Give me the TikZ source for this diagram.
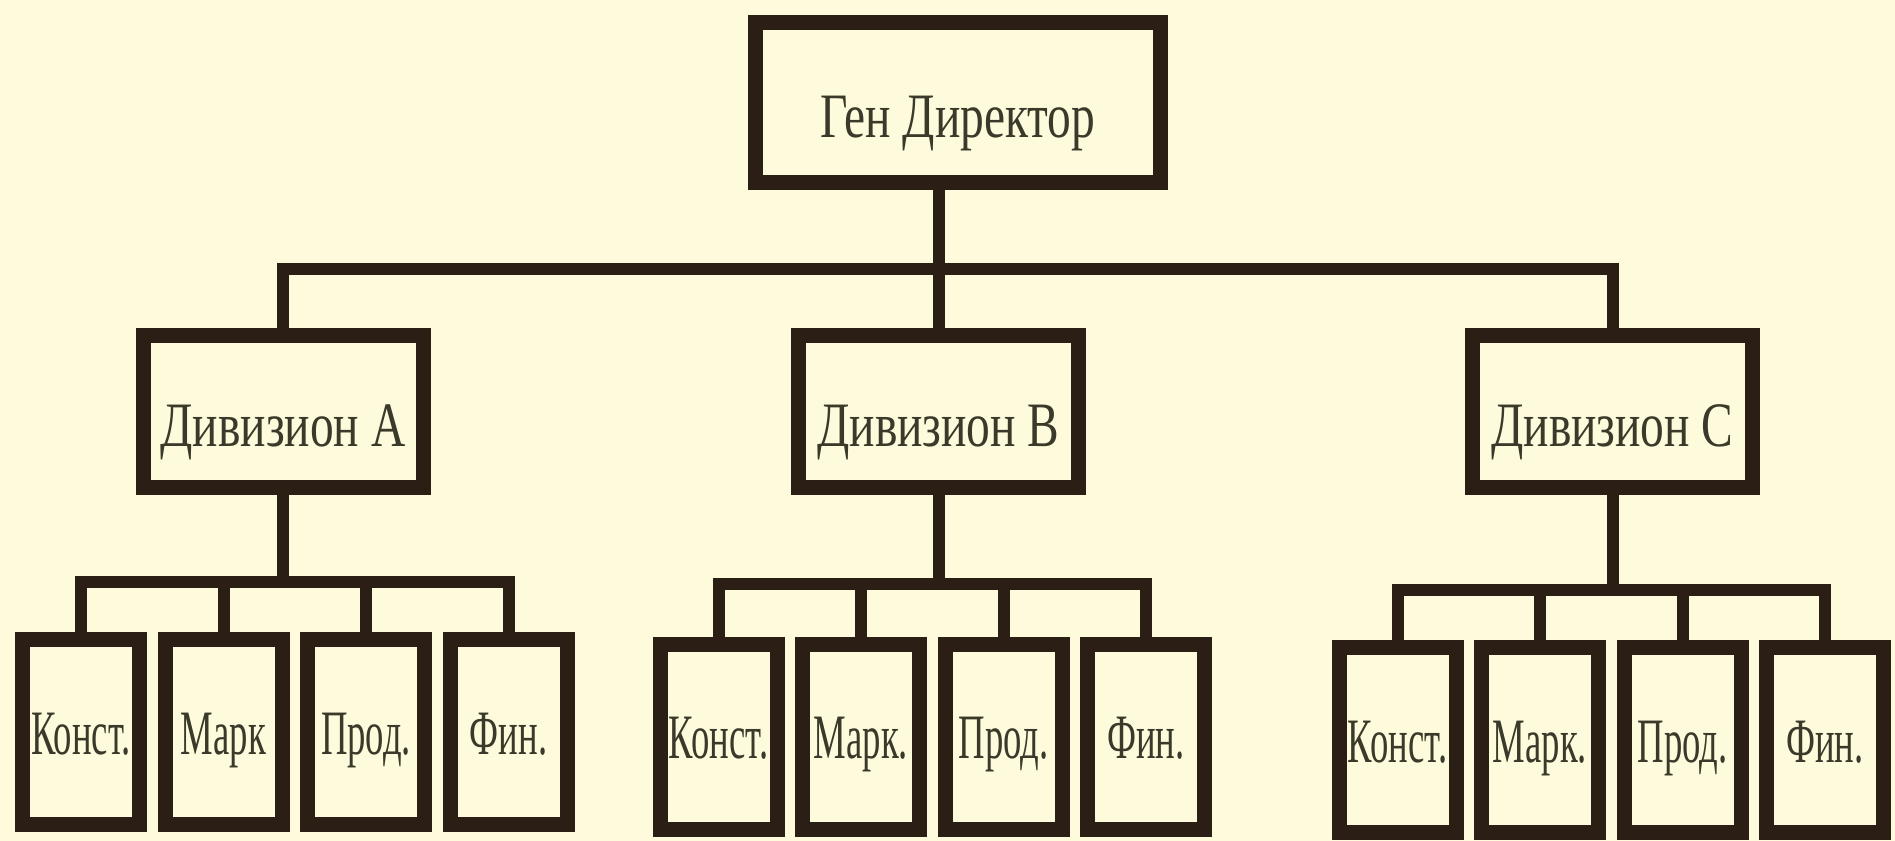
\documentclass[tikz,border=0pt]{standalone}
\usepackage{fontspec}
\setmainfont{Liberation Serif}
\newfontfamily\headfont{Liberation Serif}[FakeStretch=0.75]
\newfontfamily\unitfont{Liberation Serif}[FakeStretch=0.58]
\usetikzlibrary{positioning}
\definecolor{paper}{HTML}{FDFBDC}
\definecolor{ink}{HTML}{2B1E14}
\definecolor{txt}{HTML}{3B3A2A}
\tikzset{head/.style={draw=ink, fill=paper, line width=1.5mm, inner sep=0pt, text=txt,
                      text height=20pt, text depth=0pt,
                      font=\headfont\fontsize{18}{20}\selectfont},
         chief/.style={head, minimum width=4.05cm, minimum height=1.60cm},
         division/.style={head, minimum width=2.80cm, minimum height=1.52cm},
         unit/.style={head, font=\unitfont\fontsize{18}{20}\selectfont,
                      text height=12.5pt, minimum width=1.17cm, minimum height=1.85cm},
         link/.style={draw=ink, line width=1.2mm},
        }

\begin{document}
\begin{tikzpicture}
        \fill[paper] (0,0) rectangle (18.95,-8.41);
        \useasboundingbox (0,0) rectangle (18.95,-8.41);
        \node[chief](gen)at(9.58,-1.025){Ген Директор};
        \node[division](divA)at(2.83,-4.115){Дивизион A};
        \node[division](divB)at(9.385,-4.115){Дивизион B};
        \node[division](divC)at(16.125,-4.115){Дивизион C};
        \coordinate(bar)at(9.385,-2.69);
        \draw[link](divA.north)|-(bar)-|(divC.north);
        \draw[link](gen.south -| divB.north)--(divB.north);
        % units of each division
        \foreach \g/\sx/\sy/\by/\mk in {A/0.81/-7.325/-5.82/Марк,
                                         B/7.185/-7.37/-5.84/Марк.,
                                         C/13.975/-7.405/-5.90/Марк.}{
            \foreach \lbl [count=\i from 0] in {Конст.,\mk,Прод.,Фин.}
                \node[unit](\g\i)at({\sx+1.425*\i},\sy){\lbl};
            \coordinate(bar\g)at(div\g.south |- 0,\by);
            \draw[link](div\g.south)--(bar\g);
            \draw[link](\g0.north)|-(bar\g)-|(\g3.north);
            \draw[link](\g1.north)--(\g1.north |- bar\g);
            \draw[link](\g2.north)--(\g2.north |- bar\g);
        }
    \end{tikzpicture}
\end{document}
